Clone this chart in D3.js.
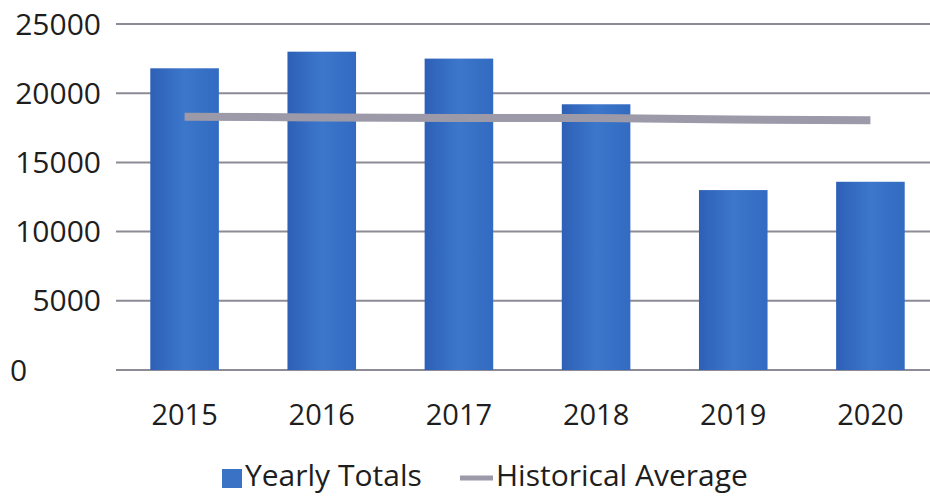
<!DOCTYPE html>
<html>
<head>
<meta charset="utf-8">
<script src="https://cdn.jsdelivr.net/npm/d3@7"></script>
<style>
  body { margin: 0; background: #fff; }
  svg { display: block; font-family: "Open Sans", sans-serif; }
</style>
</head>
<body>
<svg id="chart" width="930" height="498"></svg>
<script>
var years = ["2015", "2016", "2017", "2018", "2019", "2020"];
var yearlyTotals = [21800, 23000, 22500, 19200, 13000, 13600];
var historicalAverage = [18300, 18250, 18200, 18200, 18100, 18050];
var yTicks = [0, 5000, 10000, 15000, 20000, 25000];

var svg = d3.select("#chart");

var x = d3.scaleBand()
  .domain(years)
  .range([116, 939])
  .paddingInner(0.5)
  .paddingOuter(0.25);

var y = d3.scaleLinear()
  .domain([0, 25000])
  .range([370, 24]);

var defs = svg.append("defs");
var grad = defs.append("linearGradient")
  .attr("id", "barGrad")
  .attr("x1", 0).attr("x2", 1).attr("y1", 0).attr("y2", 0);
grad.append("stop").attr("offset", "0%").attr("stop-color", "#2d60b6");
grad.append("stop").attr("offset", "50%").attr("stop-color", "#3c77cb");
grad.append("stop").attr("offset", "100%").attr("stop-color", "#326bc1");

// gridlines
svg.append("g")
  .selectAll("line")
  .data(yTicks)
  .join("line")
  .attr("x1", 116)
  .attr("x2", 930)
  .attr("y1", function(d){ return y(d); })
  .attr("y2", function(d){ return y(d); })
  .attr("stroke", "#8c8b96")
  .attr("stroke-width", 2);

// y labels
svg.append("g")
  .selectAll("text")
  .data(yTicks)
  .join("text")
  .attr("x", function(d){ return d === 0 ? 10 : 101; })
  .attr("y", function(d){ return y(d); })
  .attr("dy", "0.35em")
  .attr("text-anchor", function(d){ return d === 0 ? "start" : "end"; })
  .attr("font-size", 30)
  .attr("fill", "#1e1e1e")
  .text(function(d){ return d; });

// bars
svg.append("g")
  .selectAll("rect")
  .data(yearlyTotals)
  .join("rect")
  .attr("x", function(d, i){ return x(years[i]); })
  .attr("width", x.bandwidth())
  .attr("y", function(d){ return y(d); })
  .attr("height", function(d){ return y(0) - y(d); })
  .attr("fill", "url(#barGrad)");

// average line
var line = d3.line()
  .x(function(d, i){ return x(years[i]) + x.bandwidth() / 2; })
  .y(function(d){ return y(d); });

svg.append("path")
  .datum(historicalAverage)
  .attr("d", line)
  .attr("fill", "none")
  .attr("stroke", "#9c9aa9")
  .attr("stroke-width", 8);

// x labels
svg.append("g")
  .selectAll("text")
  .data(years)
  .join("text")
  .attr("x", function(d){ return x(d) + x.bandwidth() / 2; })
  .attr("y", 415)
  .attr("dy", "0.35em")
  .attr("text-anchor", "middle")
  .attr("font-size", 29)
  .attr("fill", "#1e1e1e")
  .text(function(d){ return d; });

// legend
var legend = svg.append("g").attr("transform", "translate(0,486)");
legend.append("rect")
  .attr("x", 222).attr("y", -17)
  .attr("width", 20).attr("height", 19)
  .attr("fill", "#3a72c6");
legend.append("text")
  .attr("x", 245).attr("y", 0)
  .attr("font-size", 30)
  .attr("fill", "#1e1e1e")
  .text("Yearly Totals");
legend.append("line")
  .attr("x1", 460).attr("x2", 493)
  .attr("y1", -8).attr("y2", -8)
  .attr("stroke", "#9c9aa9")
  .attr("stroke-width", 5);
legend.append("text")
  .attr("x", 496).attr("y", 0)
  .attr("font-size", 30)
  .attr("fill", "#1e1e1e")
  .text("Historical Average");
</script>
</body>
</html>
